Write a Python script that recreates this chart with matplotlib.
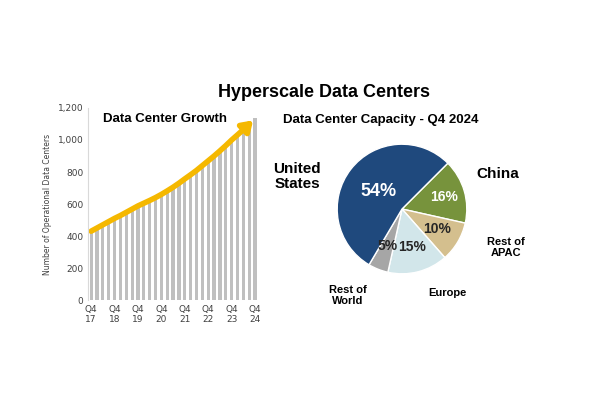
import matplotlib
matplotlib.use("Agg")
import matplotlib.pyplot as plt
import numpy as np

quarters = ["Q4\n17","","","","Q4\n18","","","","Q4\n19","","","","Q4\n20","","","","Q4\n21","","","","Q4\n22","","","","Q4\n23","","","","Q4\n24"]
counts = [430,450,470,490,510,528,548,568,588,605,622,640,660,682,705,730,757,783,810,840,870,900,932,965,1000,1032,1065,1100,1135]
pie_labels = ["China","Rest of\nAPAC","Europe","Rest of\nWorld","United\nStates"]
pie_shares = [16,10,15,5,54]
pie_colors = ["#77933c","#d4bf8e","#d2e6ea","#a6a6a6","#1f497d"]

fig = plt.figure(figsize=(6,4), dpi=100)
fig.text(0.54, 0.757, "Hyperscale Data Centers", ha="center", fontsize=13, fontweight="bold", family="Liberation Sans")

ax = fig.add_axes([0.147, 0.25, 0.283, 0.48])
x = np.arange(len(counts))
ax.bar(x, counts, width=0.55, color="#bfbfbf")
ax.set_xlim(-0.5, len(counts)-0.5)
ax.set_ylim(0, 1200)
ax.set_yticks(range(0,1201,200))
ax.set_yticklabels([f"{v:,}" for v in range(0,1201,200)], fontsize=6.5, color="#404040")
ax.set_xticks(x)
ax.set_xticklabels(quarters, fontsize=6.5, color="#404040")
ax.tick_params(length=0)
for s in ["top","right","bottom"]:
    ax.spines[s].set_visible(False)
ax.spines["left"].set_color("#d9d9d9")
ax.set_ylabel("Number of Operational Data Centers", fontsize=5.5, color="#404040")
ax.plot(x[:-1], counts[:-1], color="#f5b800", lw=4, solid_capstyle="round")
ax.annotate("", xy=(x[-1], counts[-1]), xytext=(x[-3], counts[-3]),
            arrowprops=dict(arrowstyle="-|>,head_length=0.6,head_width=0.4", color="#f5b800", lw=4))
ax.text(2, 1110, "Data Center Growth", fontsize=9.5, fontweight="bold", family="Liberation Sans")

fig.text(0.635, 0.693, "Data Center Capacity - Q4 2024", ha="center", fontsize=9.5, fontweight="bold", family="Liberation Sans")
pax = fig.add_axes([0.535, 0.275, 0.27, 0.405])
wedges, _ = pax.pie(pie_shares, colors=pie_colors, startangle=45, counterclock=False,
                    wedgeprops=dict(edgecolor="white", linewidth=1))
pax.set_aspect("equal")
ins = [0.68, 0.62, 0.6, 0.62, 0.45]
for w, share, r, c in zip(wedges, pie_shares, ins, pie_colors):
    ang = np.deg2rad((w.theta1 + w.theta2) / 2)
    col = "white" if c in ("#1f497d", "#77933c") else "#262626"
    fs = 13 if share == 54 else 10
    pax.text(r*np.cos(ang), r*np.sin(ang), f"{share}%", ha="center", va="center",
             fontsize=fs, fontweight="bold", color=col, family="Liberation Sans")
fig.text(0.83, 0.555, "China", ha="center", fontsize=11, fontweight="bold", family="Liberation Sans")
fig.text(0.843, 0.36, "Rest of\nAPAC", ha="center", fontsize=8, fontweight="bold", family="Liberation Sans", linespacing=1.1)
fig.text(0.745, 0.26, "Europe", ha="center", fontsize=8, fontweight="bold", family="Liberation Sans")
fig.text(0.58, 0.24, "Rest of\nWorld", ha="center", fontsize=8, fontweight="bold", family="Liberation Sans", linespacing=1.1)
fig.text(0.495, 0.53, "United\nStates", ha="center", fontsize=11, fontweight="bold", family="Liberation Sans", linespacing=1.05)

fig.savefig("out.png", dpi=100)
